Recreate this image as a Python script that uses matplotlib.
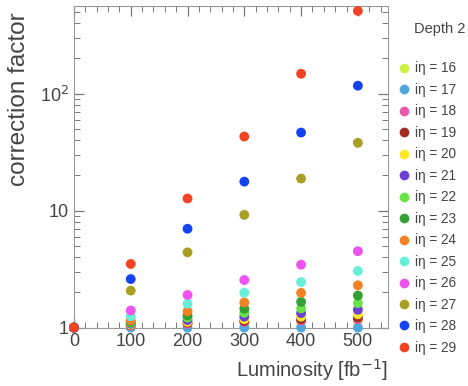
import matplotlib
matplotlib.use("Agg")
import matplotlib.pyplot as plt
from matplotlib.ticker import FixedLocator, FuncFormatter, MultipleLocator, LogLocator, NullFormatter
from matplotlib.lines import Line2D

plt.rcParams['font.family'] = ['Liberation Sans', 'DejaVu Sans']

lumi = [0, 100, 200, 300, 400, 500]
ieta = [16, 17, 18, 19, 20, 21, 22, 23, 24, 25, 26, 27, 28, 29]
colors = ['#d2ee48', '#4ea6dc', '#ea5aa8', '#a42a22', '#fde82a', '#6e40d2',
          '#66e448', '#34a034', '#f28224', '#66f0d8', '#f052f0', '#a8a024',
          '#1444f2', '#f24424']
values = {
    16: [1.0, 1.03, 1.06, 1.08, 1.10, 1.12],
    17: [1.0, 1.00, 1.00, 1.00, 1.00, 1.00],
    18: [1.0, 1.04, 1.08, 1.12, 1.15, 1.18],
    19: [1.0, 1.05, 1.10, 1.14, 1.18, 1.22],
    20: [1.0, 1.06, 1.12, 1.18, 1.24, 1.30],
    21: [1.0, 1.08, 1.16, 1.24, 1.33, 1.42],
    22: [1.0, 1.10, 1.22, 1.34, 1.46, 1.62],
    23: [1.0, 1.12, 1.27, 1.45, 1.66, 1.88],
    24: [1.0, 1.15, 1.38, 1.64, 1.98, 2.30],
    25: [1.0, 1.25, 1.60, 1.99, 2.45, 3.05],
    26: [1.0, 1.40, 1.90, 2.55, 3.45, 4.50],
    27: [1.0, 2.07, 4.40, 9.20, 18.8, 38.0],
    28: [1.0, 2.60, 7.00, 17.7, 46.5, 117.0],
    29: [1.0, 3.50, 12.7, 43.0, 148.0, 510.0],
}

fig = plt.figure(figsize=(4.68, 3.86), dpi=100)
ax = fig.add_axes([0.158, 0.150, 0.671, 0.834])

for k, c in zip(ieta, colors):
    ax.scatter(lumi, values[k], s=50, color=c, edgecolors='none', zorder=3, clip_on=False)

ax.set_yscale('log')
ax.set_xlim(0, 553)
ax.set_ylim(0.99, 560)

ax.xaxis.set_major_locator(MultipleLocator(100))
ax.xaxis.set_minor_locator(MultipleLocator(20))
ax.yaxis.set_major_locator(FixedLocator([1, 10, 100]))
ax.yaxis.set_minor_locator(LogLocator(base=10, subs=range(2, 10)))
ax.yaxis.set_minor_formatter(NullFormatter())

def yfmt(v, pos):
    if abs(v - 1) < 1e-6:
        return '1'
    if abs(v - 10) < 1e-6:
        return '10'
    if abs(v - 100) < 1e-6:
        return r'10$^{2}$'
    return ''
ax.yaxis.set_major_formatter(FuncFormatter(yfmt))

ax.tick_params(which='both', direction='in', top=True, right=True, colors='#777777',
               labelcolor='#444444', labelsize=13)
ax.tick_params(which='major', length=7, width=0.9)
ax.tick_params(which='minor', length=4, width=0.7)
for s in ax.spines.values():
    s.set_color('#999999')
    s.set_linewidth(0.8)

ax.set_ylabel('correction factor', fontsize=17.5, color='#444444', ha='right')
ax.yaxis.set_label_coords(-0.14, 0.98)
ax.set_xlabel('Luminosity [fb$^{-1}$]', fontsize=14.5, color='#444444', loc='right', labelpad=5)

handles = [Line2D([], [], marker='o', linestyle='none', markersize=7,
                  markerfacecolor=c, markeredgecolor='none') for c in colors]
labels = ['iη = %d' % k for k in ieta]
fig.legend(handles, labels, loc='upper left', bbox_to_anchor=(0.835, 0.855),
           frameon=False, fontsize=9.8, labelspacing=0.55, handletextpad=0.15,
           handlelength=1.2, borderaxespad=0, labelcolor='#444444')
fig.text(0.995, 0.925, 'Depth 2', ha='right', va='center', fontsize=10.5, color='#444444')

fig.savefig('out.png', dpi=100)
